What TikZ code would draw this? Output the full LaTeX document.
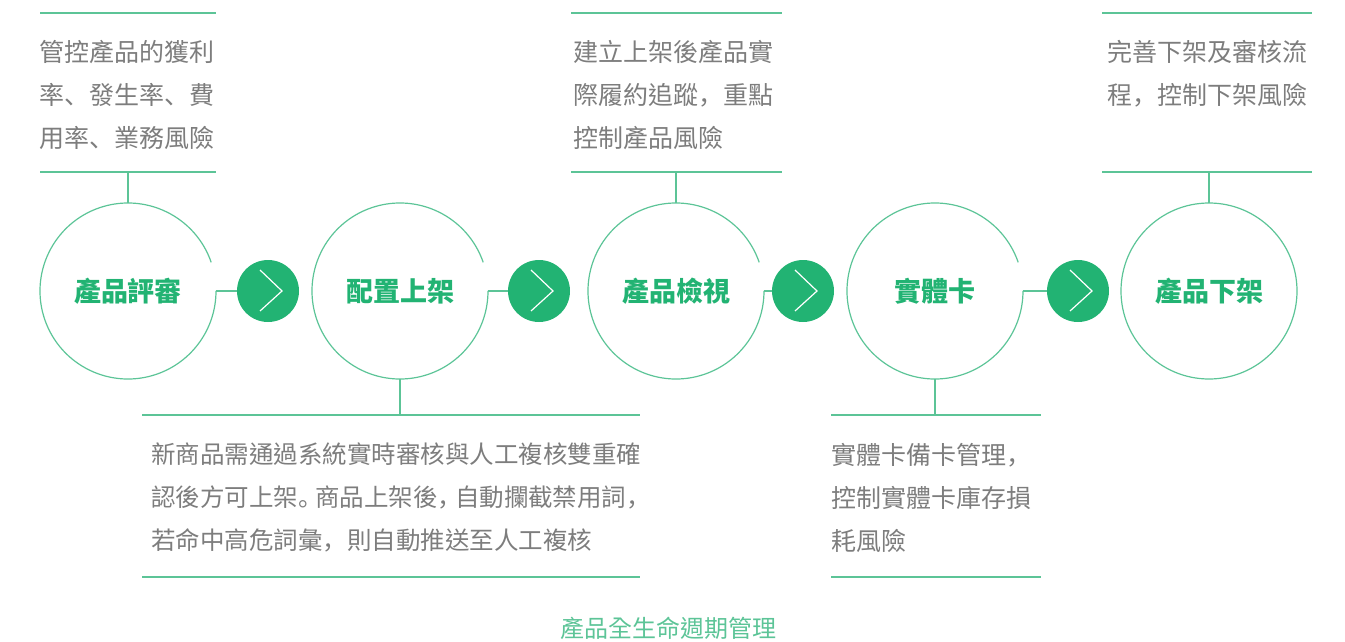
\documentclass[tikz,border=0pt]{standalone}
\usepackage{fontspec}
\setmainfont{Noto Sans CJK TC}
\newfontfamily\punctfont{Noto Sans CJK SC}
\newcommand{\pz}[1]{{\punctfont #1}}
\usetikzlibrary{positioning}
\definecolor{brand}{HTML}{22B373}
\definecolor{ringc}{HTML}{5CC497}
\definecolor{notec}{HTML}{7D7D7D}
\tikzset{
  stage/.style={circle, minimum size=176pt, inner sep=0pt, outer sep=0pt, text=brand, font=\fontsize{27}{27}\selectfont\bfseries},
  ring/.style={draw=ringc, line width=1.2pt},
  go/.style={circle, fill=brand, minimum size=62pt, inner sep=0pt, outer sep=0pt,
    path picture={\draw[white, line width=1.2pt] ([shift={(-8pt,21pt)}]path picture bounding box.center) -- ++(22pt,-21pt) -- ++(-22pt,-20pt);}},
  frame/.style 2 args={minimum width=#1, minimum height=#2, inner sep=0pt, outer sep=0pt},
  note/.style={align=left, inner sep=0pt, text=notec, font=\fontsize{25}{43}\selectfont},
  rule/.style={draw=ringc, line width=1.2pt},
  caption/.style={text=ringc, font=\fontsize{24}{24}\selectfont}
}
\begin{document}
\begin{tikzpicture}[x=1pt,y=1pt]
  \useasboundingbox (0,0) rectangle (1345,-642);
  \node[stage] (s1) at (128,-291) {產品評審};
  \node[stage] (s2) at (400,-291) {配置上架};
  \node[stage] (s3) at (676,-291) {產品檢視};
  \node[stage] (s4) at (935,-291) {實體卡};
  \node[stage] (s5) at (1209,-291) {產品下架};
  \node[go] (g1) at (268,-291) {};
  \node[go] (g2) at (539,-291) {};
  \node[go] (g3) at (803,-291) {};
  \node[go] (g4) at (1078,-291) {};
  \foreach \s in {s1,s2,s3,s4}
    \draw[ring] (\s.19) arc (19:360:88pt);
  \draw[ring] (s5.center) circle (88pt);
  \foreach \s/\g in {s1/g1,s2/g2,s3/g3,s4/g4}
    \draw[ring] (\s.east) -- (\g.west);

  % top notes
  \node[frame={176pt}{159pt}] (f1) at (128,-92.5) {};
  \node[frame={211pt}{159pt}] (f3) at (676.5,-92.5) {};
  \node[frame={210pt}{159pt}] (f5) at (1207,-92.5) {};
  % bottom notes
  \node[frame={498pt}{162pt}] (f2) at (391,-496) {};
  \node[frame={210pt}{162pt}] (f4) at (936,-496) {};
  \foreach \f in {f1,f2,f3,f4,f5}
    \draw[rule] (\f.north west) -- (\f.north east) (\f.south west) -- (\f.south east);
  \draw[ring] (s1.north) -- (s1.north |- f1.south);
  \draw[ring] (s3.north) -- (s3.north |- f3.south);
  \draw[ring] (s5.north) -- (s5.north |- f5.south);
  \draw[ring] (s2.south) -- (s2.south |- f2.north);
  \draw[ring] (s4.south) -- (s4.south |- f4.north);

  \node[note, below right=27pt and -1pt of f1.north west] (n1) {管控產品的獲利\\率\pz{、}發生率\pz{、}費\\用率\pz{、}業務風險};
  \node[note, below right=27pt and 2pt of f3.north west] (n3) {建立上架後產品實\\際履約追蹤\pz{，}重點\\控制產品風險};
  \node[note, below right=27pt and 5pt of f5.north west] (n5) {完善下架及審核流\\程\pz{，}控制下架風險};
  \node[note, font=\fontsize{24.5}{43}\selectfont, below right=28pt and 9pt of f2.north west] (n2) {新商品需通過系統實時審核與人工複核雙重確\\認後方可上架\pz{。}\kern-.3em 商品上架後\pz{，}\kern-.3em 自動攔截禁用詞\pz{，}\\若命中高危詞彙\pz{，}則自動推送至人工複核};
  \node[note, below right=28pt and 0pt of f4.north west] (n4) {實體卡備卡管理\pz{，}\\控制實體卡庫存損\\耗風險};

  \node[caption] (cap) at (668,-628) {產品全生命週期管理};
\end{tikzpicture}
\end{document}
